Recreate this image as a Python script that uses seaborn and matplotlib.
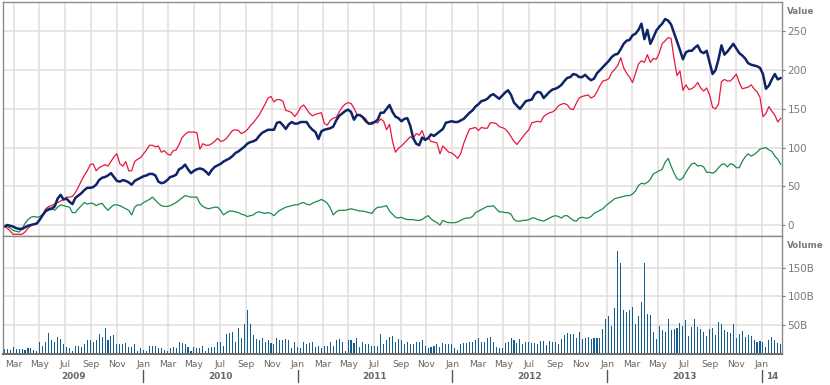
"""
Weekly performance chart: three value series (top) and traded volume (bottom).
"""

import pandas as pd
import matplotlib
matplotlib.use("Agg")
import matplotlib.pyplot as plt
import matplotlib.dates as mdates
import matplotlib.transforms as mtransforms
import seaborn as sns

# ============================================================
# Data (weekly)
# ============================================================
WEEK_START = "2009-02-07"

NAVY_VALUES = [
    -2, 0, -1, -2, -4, -5, -5, -3, -1, 0,
    1, 2, 7, 13, 18, 20, 21, 24, 34, 39,
    33, 34, 30, 27, 35, 38, 41, 45, 48, 48,
    49, 52, 58, 61, 62, 64, 67, 62, 57, 56,
    58, 57, 55, 52, 57, 59, 61, 63, 64, 66,
    66, 64, 56, 54, 55, 58, 62, 63, 65, 72,
    74, 78, 72, 67, 70, 72, 73, 72, 69, 65,
    71, 75, 77, 79, 82, 84, 86, 89, 93, 95,
    98, 101, 105, 107, 108, 110, 115, 119, 121, 123,
    123, 123, 132, 133, 129, 124, 130, 133, 131, 131,
    133, 133, 133, 127, 123, 120, 111, 121, 123, 124,
    125, 127, 135, 141, 144, 147, 149, 146, 136, 142,
    142, 139, 134, 131, 131, 133, 136, 145, 145, 150,
    155, 146, 140, 138, 134, 137, 138, 128, 112, 105,
    103, 113, 110, 112, 117, 115, 118, 121, 124, 132,
    133, 134, 133, 133, 135, 137, 141, 145, 148, 153,
    156, 160, 161, 163, 167, 169, 166, 163, 167, 171,
    174, 168, 158, 154, 150, 155, 160, 161, 162, 169,
    172, 171, 164, 168, 172, 175, 176, 178, 181, 186,
    190, 191, 195, 194, 191, 191, 194, 190, 187, 189,
    196, 200, 204, 208, 212, 217, 220, 221, 227, 234,
    238, 239, 245, 247, 252, 260, 240, 252, 234, 242,
    251, 256, 260, 266, 264, 259, 248, 237, 226, 214,
    223, 225, 225, 229, 232, 224, 222, 225, 210, 195,
    200, 214, 232, 220, 224, 229, 234, 228, 222, 219,
    215, 209, 207, 206, 205, 203, 195, 176, 180, 188,
    195, 188, 190,
]

RED_VALUES = [
    -2, -4, -8, -12, -12, -12, -12, -9, -4, -1,
    1, 2, 8, 13, 21, 24, 25, 27, 29, 31,
    33, 36, 36, 37, 42, 49, 57, 64, 70, 78,
    79, 70, 74, 76, 78, 76, 82, 88, 92, 79,
    76, 82, 70, 70, 82, 85, 87, 92, 97, 103,
    103, 101, 102, 94, 96, 92, 90, 96, 97, 104,
    113, 117, 120, 120, 120, 119, 98, 105, 103, 103,
    105, 108, 112, 108, 109, 112, 117, 122, 123, 122,
    118, 120, 123, 128, 132, 137, 142, 149, 156, 164,
    166, 159, 162, 162, 160, 148, 147, 145, 140, 145,
    152, 155, 150, 144, 141, 143, 144, 145, 131, 129,
    135, 138, 139, 146, 152, 156, 158, 157, 151, 143,
    142, 140, 137, 130, 133, 133, 132, 137, 134, 123,
    130, 108, 94, 99, 102, 106, 110, 114, 112, 118,
    116, 122, 111, 113, 108, 107, 106, 92, 102, 98,
    94, 93, 90, 86, 92, 105, 115, 124, 125, 126,
    122, 126, 125, 125, 132, 132, 131, 127, 126, 124,
    120, 114, 108, 104, 109, 114, 119, 123, 132, 133,
    134, 133, 140, 143, 145, 146, 149, 154, 156, 157,
    155, 150, 149, 157, 164, 166, 167, 168, 164, 166,
    172, 180, 186, 187, 189, 197, 201, 206, 216, 203,
    196, 191, 184, 196, 208, 212, 210, 220, 210, 215,
    214, 222, 234, 238, 242, 241, 215, 193, 199, 174,
    181, 175, 176, 179, 184, 177, 173, 177, 168, 152,
    150, 156, 185, 188, 186, 186, 190, 195, 184, 176,
    177, 178, 181, 176, 172, 165, 140, 144, 153, 147,
    142, 133, 138,
]

GREEN_VALUES = [
    -1, -2, -4, -7, -8, -9, -5, 2, 7, 10,
    11, 10, 11, 14, 20, 22, 22, 19, 23, 26,
    25, 24, 23, 16, 16, 21, 25, 29, 27, 28,
    28, 25, 27, 28, 23, 19, 23, 26, 26, 25,
    23, 21, 19, 13, 23, 26, 26, 29, 31, 33,
    36, 32, 28, 25, 24, 24, 25, 27, 29, 32,
    35, 38, 37, 36, 36, 36, 28, 24, 22, 21,
    22, 23, 23, 19, 13, 16, 18, 18, 17, 16,
    14, 13, 11, 12, 13, 16, 17, 16, 15, 16,
    15, 12, 16, 19, 21, 23, 24, 25, 26, 26,
    28, 29, 27, 26, 28, 30, 31, 33, 31, 28,
    22, 13, 17, 19, 19, 19, 20, 21, 20, 19,
    18, 18, 17, 16, 15, 20, 23, 23, 24, 25,
    18, 14, 10, 9, 10, 8, 7, 7, 7, 6,
    6, 7, 10, 12, 8, 5, 3, 0, 6, 4,
    3, 3, 3, 4, 6, 8, 9, 9, 11, 16,
    18, 20, 22, 24, 24, 25, 21, 17, 17, 16,
    16, 14, 7, 5, 5, 6, 6, 7, 9, 9,
    7, 6, 5, 7, 9, 11, 12, 11, 9, 12,
    12, 9, 6, 5, 9, 10, 9, 9, 11, 15,
    17, 19, 21, 25, 28, 31, 34, 35, 36, 37,
    38, 38, 40, 44, 51, 54, 53, 55, 59, 66,
    68, 70, 72, 81, 86, 76, 67, 60, 58, 61,
    68, 74, 79, 80, 76, 77, 75, 68, 68, 67,
    69, 74, 78, 79, 75, 79, 78, 74, 74, 82,
    88, 92, 89, 91, 94, 98, 99, 100, 97, 95,
    89, 85, 78,
]

# volume in billions
VOLUME_B = [
    8, 8, 7, 12, 8, 8, 8, 7, 9, 10,
    7, 5, 20, 14, 20, 36, 23, 21, 29, 25,
    16, 12, 10, 5, 14, 14, 12, 16, 23, 23,
    21, 23, 34, 29, 45, 23, 30, 32, 16, 16,
    16, 18, 12, 12, 16, 5, 10, 7, 5, 14,
    14, 14, 10, 9, 7, 5, 10, 12, 10, 21,
    18, 16, 12, 5, 12, 10, 9, 14, 5, 10,
    12, 12, 20, 20, 14, 34, 36, 38, 21, 45,
    27, 52, 76, 51, 32, 25, 23, 27, 21,
    23, 18, 16, 27, 23, 23, 25, 23, 10, 20,
    12, 10, 21, 16, 18, 21, 12, 14, 10, 14,
    14, 20, 14, 23, 25, 21, 5, 23, 23, 18,
    27, 12, 20, 16, 16, 14, 14, 14, 34, 16,
    23, 29, 30, 20, 25, 23, 16, 20, 16, 16,
    21, 21, 23, 14, 10, 12, 14, 16, 12, 18,
    16, 16, 16, 9, 7, 16, 18, 18, 21, 21,
    23, 27, 21, 20, 27, 29, 20, 12, 9, 10,
    18, 20, 27, 23, 18, 25, 16, 21,
    20, 18, 18, 17, 22, 22, 15, 22, 20, 20,
    17, 26, 33, 36, 35, 35, 27, 38, 26, 27,
    29, 26, 27, 27, 27, 43, 60, 65, 49, 79,
    179, 159, 76, 72, 77, 81, 52, 65, 90, 158,
    70, 68, 38, 26, 49, 42, 38, 61, 42, 43,
    45, 54, 49, 58, 31, 47, 60, 47, 43, 38,
    31, 43, 45, 33, 56, 51, 42, 38, 36, 52,
    27, 35, 40, 29, 33, 31, 24, 20, 22, 20,
    11, 24, 29, 24, 18, 17,
]

VALUE_TICKS = [0, 50, 100, 150, 200, 250]
VOLUME_TICKS = [50, 100, 150]
VOLUME_LABELS = ["50B", "100B", "150B"]
YEARS = [2009, 2010, 2011, 2012, 2013, 2014]
YEAR_LABELS = ["2009", "2010", "2011", "2012", "2013", "14"]

X_START = pd.Timestamp("2009-02-04")
X_END = pd.Timestamp("2014-02-18")

# ============================================================
# Style
# ============================================================
NAVY = "#0f2368"
RED = "#e8173f"
GREEN = "#1b8a4b"
BAR_BLUE = "#135e8f"
GRID = "#e2dede"
BORDER = "#8c8c8c"
TEXT = "#7a7a7a"

sns.set_style("white")
plt.rcParams["font.family"] = ["DejaVu Sans"]

W, H = 830, 385
fig = plt.figure(figsize=(W / 100, H / 100), dpi=100)


def px_axes(left, top, right, bottom):
    return fig.add_axes([left / W, 1 - bottom / H, (right - left) / W, (bottom - top) / H])


ax_top = px_axes(3, 2, 782, 236)
ax_bot = px_axes(3, 236, 782, 353.5)

dates = pd.date_range(WEEK_START, periods=len(VOLUME_B), freq="7D")
df = pd.DataFrame({
    "date": dates,
    "navy": NAVY_VALUES,
    "red": RED_VALUES,
    "green": GREEN_VALUES,
    "volume": VOLUME_B,
})

# ============================================================
# Top panel: value lines
# ============================================================
sns.lineplot(data=df, x="date", y="green", color=GREEN, lw=0.9, ax=ax_top, legend=False)
sns.lineplot(data=df, x="date", y="red", color=RED, lw=0.9, ax=ax_top, legend=False)
sns.lineplot(data=df, x="date", y="navy", color=NAVY, lw=1.8, ax=ax_top, legend=False)

ax_top.set_ylim(-14.2, 288)
ax_top.set_yticks(VALUE_TICKS)

# ============================================================
# Bottom panel: volume bars (thin columns, one per week)
# ============================================================
ax_bot.bar(df["date"], df["volume"], width=2.5, color=BAR_BLUE, linewidth=0,
           antialiased=False)
ax_bot.set_ylim(0, 206)
ax_bot.set_yticks(VOLUME_TICKS)
ax_bot.set_yticklabels(VOLUME_LABELS)

# ============================================================
# Shared axis styling
# ============================================================
month_loc = mdates.MonthLocator(bymonth=[1, 3, 5, 7, 9, 11])
for ax in (ax_top, ax_bot):
    ax.set_xlim(X_START, X_END)
    ax.xaxis.set_major_locator(month_loc)
    ax.xaxis.set_major_formatter(mdates.DateFormatter("%b"))
    ax.grid(True, color=GRID, lw=1.1)
    ax.set_axisbelow(True)
    ax.set_xlabel("")
    ax.set_ylabel("")
    ax.yaxis.tick_right()
    ax.tick_params(axis="y", labelsize=7.5, colors=TEXT, length=2.5, width=0.8, pad=1.5)
    for side in ("left", "right", "top", "bottom"):
        ax.spines[side].set_visible(True)
        ax.spines[side].set_color(BORDER)
        ax.spines[side].set_linewidth(1.0)

ax_top.tick_params(axis="x", length=0, labelbottom=False)
ax_bot.spines["bottom"].set_color("#707070")
ax_bot.spines["bottom"].set_linewidth(1.5)
ax_bot.tick_params(axis="x", labelsize=6.6, colors="#707070", length=3, width=1,
                   pad=2, labelcolor="#666666")

# year labels and separators under the month labels
sep_tr = mtransforms.blended_transform_factory(ax_bot.transData, fig.transFigure)
for year, label in zip(YEARS, YEAR_LABELS):
    y_start = max(pd.Timestamp(f"{year}-01-01"), X_START)
    y_end = min(pd.Timestamp(f"{year + 1}-01-01"), X_END)
    center = y_start + (y_end - y_start) / 2
    ax_bot.text(center, 1 - 376.5 / H, label, transform=sep_tr, ha="center", va="center",
                fontsize=6.4, fontweight="bold", color="#666666")
    if year > YEARS[0]:
        jan = pd.Timestamp(f"{year}-01-01")
        ax_bot.plot([jan, jan], [1 - 382 / H, 1 - 370 / H], transform=sep_tr,
                    color="#555555", lw=1, clip_on=False)

# panel titles on the right
fig.text(787 / W, 1 - 12 / H, "Value", fontsize=6.3, fontweight="bold",
         color=TEXT, ha="left", va="center")
fig.text(787 / W, 1 - 246 / H, "Volume", fontsize=6.3, fontweight="bold",
         color=TEXT, ha="left", va="center")

fig.savefig("out.png", dpi=100)
plt.close(fig)
